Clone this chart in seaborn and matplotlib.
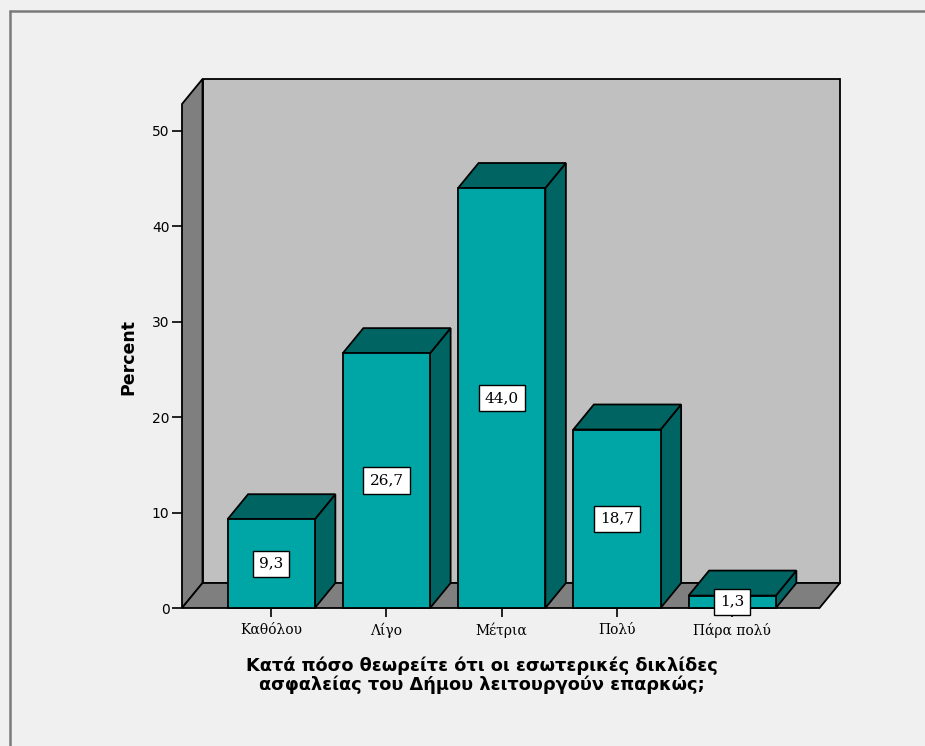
import matplotlib
matplotlib.use("Agg")
import numpy as np
import matplotlib.pyplot as plt
from matplotlib.patches import Polygon
from matplotlib.lines import Line2D
import seaborn as sns

# data
categories = ["Καθόλου", "Λίγο", "Μέτρια", "Πολύ", "Πάρα πολύ"]
percents = [9.3, 26.7, 44.0, 18.7, 1.3]
yticks = [0, 10, 20, 30, 40, 50]
xlabel = "Κατά πόσο θεωρείτε ότι οι εσωτερικές δικλίδες\nασφαλείας του Δήμου λειτουργούν επαρκώς;"

# colours
BG = "#F0F0F0"
WALL = "#C0C0C0"
SIDEWALL = "#7F7F7F"
FRONT = "#00A6A6"
DARK = "#006562"

# geometry (category units / percent units)
X0, X1 = -0.774, 4.757       # front floor edges
DX, DY = 0.178, 2.62         # depth offset
H = 52.8                     # wall height
BAR_W = 0.757

sns.set_theme(style="white")
plt.rcParams["font.family"] = ["DejaVu Sans"]
plt.rcParams.update({"text.color": "black", "axes.labelcolor": "black",
                     "xtick.color": "black", "ytick.color": "black"})

fig = plt.figure(figsize=(9.25, 7.46), dpi=100, facecolor=BG)
ax = fig.add_axes([182 / 925, (746 - 608) / 746, 658 / 925, 529 / 746])
ax.set_facecolor(BG)

sns.barplot(x=categories, y=percents, color=FRONT, saturation=1,
            width=BAR_W, edgecolor="black", linewidth=1.3,
            errorbar=None, ax=ax, zorder=3)
bars = list(ax.patches)

# walls and floor
lw = 1.3
ax.add_patch(Polygon([(X0 + DX, DY), (X1 + DX, DY), (X1 + DX, DY + H), (X0 + DX, DY + H)],
                     closed=True, fc=WALL, ec="black", lw=lw, zorder=1, clip_on=False))
ax.add_patch(Polygon([(X0, 0), (X0, H), (X0 + DX, DY + H), (X0 + DX, DY)],
                     closed=True, fc=SIDEWALL, ec="black", lw=lw, zorder=1.5, clip_on=False))
ax.add_patch(Polygon([(X0, 0), (X1, 0), (X1 + DX, DY), (X0 + DX, DY)],
                     closed=True, fc=SIDEWALL, ec="black", lw=lw, zorder=1.5, clip_on=False))

# top and side faces of each bar
for bar in bars:
    bar.set_clip_on(False)
    x, w, h = bar.get_x(), bar.get_width(), bar.get_height()
    top = [(x, h), (x + w, h), (x + w + DX, h + DY), (x + DX, h + DY)]
    side = [(x + w, 0), (x + w + DX, DY), (x + w + DX, h + DY), (x + w, h)]
    ax.add_patch(Polygon(side, closed=True, fc=DARK, ec="black", lw=lw, zorder=2.9, clip_on=False))
    ax.add_patch(Polygon(top, closed=True, fc=DARK, ec="black", lw=lw, zorder=2.9, clip_on=False))

# value labels
for i, v in enumerate(percents):
    ax.text(i, v / 2, f"{v:.1f}".replace(".", ","), ha="center", va="center",
            fontsize=11, family="DejaVu Serif", zorder=5,
            bbox=dict(boxstyle="square,pad=0.4", fc="white", ec="black", lw=1))

ax.set_xlim(X0, X1 + DX)
ax.set_ylim(0, H + DY)
ax.set_yticks(yticks)
ax.set_xticks(range(len(categories)))
ax.set_xticklabels(categories, family="DejaVu Serif", fontsize=10)
ax.tick_params(axis="y", left=True, length=7, width=1.2, labelsize=10, pad=2)
ax.tick_params(axis="x", bottom=True, length=6.5, width=1.2, pad=4)
for s in ax.spines.values():
    s.set_visible(False)
ax.set_xlabel("")
ax.set_ylabel("")

fig.text(128 / 925, 1 - 357 / 746, "Percent", rotation=90, ha="center", va="center",
         fontsize=12.5, fontweight="bold")
fig.text(482 / 925, 1 - 675 / 746, xlabel, ha="center", va="center",
         fontsize=12.8, fontweight="bold", linespacing=1.05)

# outer frame
fig.add_artist(Line2D([10 / 925, 10 / 925], [0, 1 - 11 / 746], transform=fig.transFigure,
                      color="#7A7A7A", lw=1.8))
fig.add_artist(Line2D([10 / 925, 1], [1 - 11 / 746, 1 - 11 / 746], transform=fig.transFigure,
                      color="#7A7A7A", lw=1.8))

fig.savefig("out.png", dpi=100, facecolor=BG)
